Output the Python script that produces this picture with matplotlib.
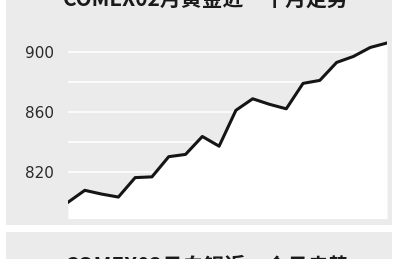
import numpy as np
import matplotlib.pyplot as plt
from matplotlib.patches import Rectangle

plt.rcParams['font.family'] = ['Noto Sans CJK SC', 'DejaVu Sans']

# gold price, last ~20 trading days
days = list(range(20))
price = [799.5, 807.5, 805, 803, 816, 816.5, 830, 831.5, 843.5, 837,
         861, 868.7, 865, 862, 879, 881, 893, 897, 903, 906]
major_ticks = [820, 860, 900]
minor_ticks = [840, 880]

title_top = 'COMEX02月黄金近一个月走势'
title_next = 'COMEX03月白银近一个月走势'

W, H = 398, 259
fig = plt.figure(figsize=(W / 100, H / 100), dpi=100)
fig.patch.set_facecolor('white')

# grey panels (pixel coords -> figure coords)
def px(x0, y0, x1, y1):
    return (x0 / W, 1 - y1 / H, (x1 - x0) / W, (y1 - y0) / H)

for box in [px(6, -5, 392, 225), px(6, 232, 392, 265)]:
    l, b, w, h = box
    fig.patches.append(Rectangle((l, b), w, h, transform=fig.transFigure,
                                 facecolor='#ebebeb', edgecolor='none', zorder=-5))

ax = fig.add_axes(px(68, 37, 387, 218))
ax.set_facecolor('none')
ax.fill_between(days, price, 780, color='white', zorder=2, linewidth=0)
ax.plot(days, price, color='#151515', linewidth=2.2, zorder=3)

ax.set_xlim(0, 19)
ax.set_ylim(789, 910)
ax.set_yticks(major_ticks)
ax.set_yticks(minor_ticks, minor=True)
ax.set_xticks([])
ax.grid(True, which='both', axis='y', color='#fbfbfb', linewidth=1.5, zorder=1)
ax.set_axisbelow(True)
ax.tick_params(axis='y', which='both', length=0, pad=10, labelsize=11,
               labelcolor='#2a2a2a')
for lab in ax.get_yticklabels():
    lab.set_family('DejaVu Sans')
for s in ax.spines.values():
    s.set_visible(False)

fig.text(206 / W, 1 + 1 / H, title_top, ha='center', va='center',
         fontsize=15, color='#1a1a1a', weight='bold')
fig.text(208 / W, 1 - 256 / H, title_next, ha='center', va='top',
         fontsize=15, color='#1a1a1a', weight='bold')

fig.savefig('out.png', dpi=100)
